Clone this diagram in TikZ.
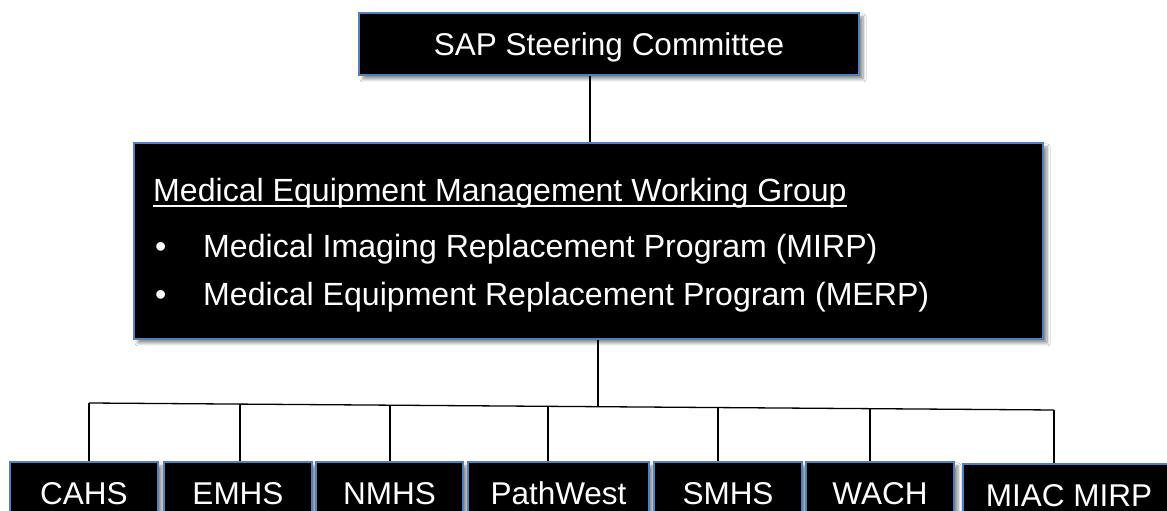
\documentclass[tikz,border=0pt]{standalone}
\usepackage{fontspec}
\setmainfont{Liberation Sans}
\usetikzlibrary{shadows,shadows.blur,calc}
\definecolor{boxedge}{HTML}{4F81BD}
\tikzset{
  orgbox/.style={draw=boxedge, line width=1.2pt, fill=black, text=white,
    inner sep=0pt, text height=22.6pt, text depth=0pt,
    font=\fontsize{31.5}{38}\selectfont,
    blur shadow={shadow xshift=4pt, shadow yshift=-4pt, shadow blur steps=6, shadow blur radius=3pt, shadow opacity=45}},
  wtext/.style={text=white, inner sep=0pt, anchor=base west, font=\fontsize{32.1}{38}\selectfont},
  link/.style={draw=black, line width=1.3pt}
}
\begin{document}
\begin{tikzpicture}[x=1pt,y=1pt]
\clip (0,0) rectangle (1167,511);
\fill[white] (0,0) rectangle (1167,511);
% top
\node[orgbox, minimum width=500pt, minimum height=62pt] (top) at (609,467) {SAP Steering Committee};
% middle
\node[orgbox, minimum width=909pt, minimum height=196pt, text height=, text depth=] (mid) at (588.5,270) {};
\node[wtext] (head) at (153,309) {Medical Equipment Management Working Group};
\draw[white, line width=2pt] ($(head.base west)+(0,-4.5)$) -- ($(head.base east)+(0,-4.5)$);
\node[wtext] (b1dot) at (155,253) {•};
\node[wtext] (b1) at (203,253) {Medical Imaging Replacement Program (MIRP)};
\node[wtext] (b2dot) at (155,205) {•};
\node[wtext] (b2) at (203,205) {Medical Equipment Replacement Program (MERP)};
% bottom row
\node[orgbox, minimum width=148pt, minimum height=62pt] (cahs) at (84,18) {CAHS};
\node[orgbox, minimum width=148pt, minimum height=62pt] (emhs) at (238,18) {EMHS};
\node[orgbox, minimum width=147pt, minimum height=62pt] (nmhs) at (389.5,18) {NMHS};
\node[orgbox, minimum width=181pt, minimum height=62pt] (path) at (558.5,18) {PathWest};
\node[orgbox, minimum width=148pt, minimum height=62pt] (smhs) at (728,18) {SMHS};
\node[orgbox, minimum width=148pt, minimum height=62pt] (wach) at (880,18) {WACH};
\node[orgbox, minimum width=212pt, minimum height=62pt] (miac) at (1069,16) {MIAC MIRP};
% bus coordinates
\coordinate (j1) at (89,108);
\coordinate (j2) at (240,106.9);
\coordinate (j3) at (390,105.8);
\coordinate (j4) at (548,104.7);
\coordinate (jm) at (598,104.3);
\coordinate (j5) at (718,103.4);
\coordinate (j6) at (870,102.3);
\coordinate (j7) at (1054,101);
% connectors
\draw[link] (top.south -| 590,0) -- (mid.north -| 590,0);
\draw[link] (mid.south -| jm) -- (jm);
\draw[link] (j1) -- (j7);
\draw[link] (j1) -- (j1 |- cahs.north);
\draw[link] (j2) -- (j2 |- emhs.north);
\draw[link] (j3) -- (j3 |- nmhs.north);
\draw[link] (j4) -- (j4 |- path.north);
\draw[link] (j5) -- (j5 |- smhs.north);
\draw[link] (j6) -- (j6 |- wach.north);
\draw[link] (j7) -- (j7 |- miac.north);
\end{tikzpicture}
\end{document}
